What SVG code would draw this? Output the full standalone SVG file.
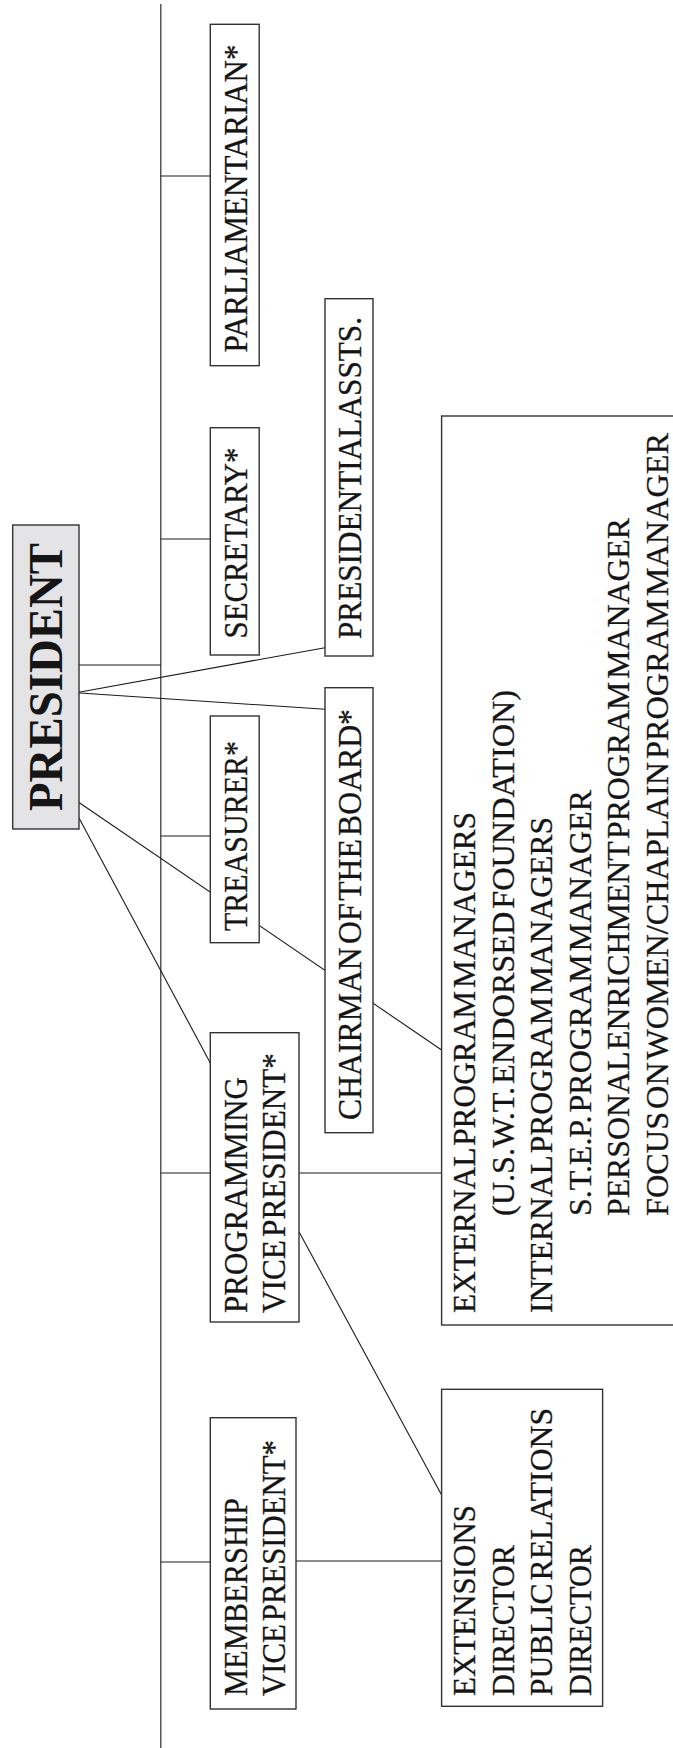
<svg xmlns="http://www.w3.org/2000/svg" width="673" height="1748" viewBox="0 0 673 1748">
<style>
.bg{fill:#ffffff}
.box{fill:#ffffff;stroke:#333333;stroke-width:1.4}
.pres{fill:#e4e4e6;stroke:#333333;stroke-width:1.4}
.ln{stroke:#1a1a1a;stroke-width:1.1;fill:none}
.t{font-family:"Liberation Serif","Times New Roman",serif;font-size:32px;fill:#151515;stroke:#151515;stroke-width:0.3;word-spacing:-5px}
.t33{font-size:33.5px}
.tb{font-family:"Liberation Serif","Times New Roman",serif;font-size:49px;font-weight:bold;fill:#151515}
</style>
<rect class="bg" x="0" y="0" width="673" height="1748"/>
<g id="connectors">
<line class="ln" x1="160.8" y1="4" x2="160.8" y2="1748"/>
<line class="ln" x1="160.8" y1="176" x2="210.3" y2="176"/>
<line class="ln" x1="160.8" y1="539" x2="210.3" y2="539"/>
<line class="ln" x1="79" y1="665" x2="160.8" y2="665"/>
<line class="ln" x1="160.8" y1="836" x2="210.3" y2="836"/>
<line class="ln" x1="160.8" y1="1173" x2="210.3" y2="1173"/>
<line class="ln" x1="299" y1="1173" x2="441.6" y2="1173"/>
<line class="ln" x1="160.8" y1="1562" x2="210.3" y2="1562"/>
<line class="ln" x1="296" y1="1561" x2="441.6" y2="1561"/>
<line class="ln" x1="76" y1="692.7" x2="325" y2="647.7"/>
<line class="ln" x1="76" y1="692.7" x2="325" y2="709.3"/>
<line class="ln" x1="79" y1="802.5" x2="441.6" y2="1050"/>
<line class="ln" x1="79" y1="818" x2="210.3" y2="1063"/>
<line class="ln" x1="299" y1="1231.7" x2="441.6" y2="1495"/>
</g>
<g id="president">
<rect class="pres" x="12.7" y="525" width="66.3" height="304"/>
<text class="tb" transform="translate(62,811) rotate(-90)" textLength="268" lengthAdjust="spacingAndGlyphs">PRESIDENT</text>
</g>
<g id="parliamentarian">
<rect class="box" x="210.3" y="24.3" width="48.9" height="341.4"/>
<text class="t t33" transform="translate(247,352.5) rotate(-90)" textLength="308" lengthAdjust="spacingAndGlyphs">PARLIAMENTARIAN*</text>
</g>
<g id="secretary">
<rect class="box" x="210.3" y="427.7" width="48.9" height="227.3"/>
<text class="t t33" transform="translate(247,638.5) rotate(-90)" textLength="191" lengthAdjust="spacingAndGlyphs">SECRETARY*</text>
</g>
<g id="treasurer">
<rect class="box" x="210.3" y="716" width="48.9" height="226.7"/>
<text class="t t33" transform="translate(247,931) rotate(-90)" textLength="190" lengthAdjust="spacingAndGlyphs">TREASURER*</text>
</g>
<g id="presidential-assts">
<rect class="box" x="325" y="298.7" width="48" height="357.3"/>
<text class="t t33" transform="translate(361,639) rotate(-90)" textLength="322" lengthAdjust="spacingAndGlyphs">PRESIDENTIAL ASSTS.</text>
</g>
<g id="chairman">
<rect class="box" x="325" y="687.7" width="48" height="445"/>
<text class="t t33" transform="translate(361,1120) rotate(-90)" textLength="411" lengthAdjust="spacingAndGlyphs">CHAIRMAN OF THE BOARD*</text>
</g>
<g id="programming-vp">
<rect class="box" x="210.3" y="1032.7" width="88.7" height="289.3"/>
<text class="t t33" transform="translate(246.5,1313) rotate(-90)" textLength="236" lengthAdjust="spacingAndGlyphs">PROGRAMMING</text>
<text class="t t33" transform="translate(285.2,1313) rotate(-90)" textLength="260" lengthAdjust="spacingAndGlyphs">VICE PRESIDENT*</text>
</g>
<g id="membership-vp">
<rect class="box" x="210.3" y="1417.7" width="85.7" height="291.3"/>
<text class="t t33" transform="translate(246.5,1696) rotate(-90)" textLength="198" lengthAdjust="spacingAndGlyphs">MEMBERSHIP</text>
<text class="t t33" transform="translate(285.2,1696) rotate(-90)" textLength="256" lengthAdjust="spacingAndGlyphs">VICE PRESIDENT*</text>
</g>
<g id="program-managers">
<rect class="box" x="441.6" y="416" width="240" height="909"/>
<text class="t" transform="translate(475,1313) rotate(-90)" textLength="501" lengthAdjust="spacingAndGlyphs">EXTERNAL PROGRAM MANAGERS</text>
<text class="t" transform="translate(513.6,1216) rotate(-90)" textLength="526" lengthAdjust="spacingAndGlyphs">(U.S.W.T. ENDORSED FOUNDATION)</text>
<text class="t" transform="translate(552.2,1313) rotate(-90)" textLength="496" lengthAdjust="spacingAndGlyphs">INTERNAL PROGRAM MANAGERS</text>
<text class="t" transform="translate(590.8,1216) rotate(-90)" textLength="426" lengthAdjust="spacingAndGlyphs">S.T.E.P. PROGRAM MANAGER</text>
<text class="t" transform="translate(629.4,1216) rotate(-90)" textLength="698" lengthAdjust="spacingAndGlyphs">PERSONAL ENRICHMENT PROGRAM MANAGER</text>
<text class="t" transform="translate(668,1216) rotate(-90)" textLength="783" lengthAdjust="spacingAndGlyphs">FOCUS ON WOMEN/CHAPLAIN PROGRAM MANAGER</text>
</g>
<g id="extensions">
<rect class="box" x="441.6" y="1389.3" width="161" height="317"/>
<text class="t" transform="translate(475,1696) rotate(-90)" textLength="191" lengthAdjust="spacingAndGlyphs">EXTENSIONS</text>
<text class="t" transform="translate(513.6,1696) rotate(-90)" textLength="151" lengthAdjust="spacingAndGlyphs">DIRECTOR</text>
<text class="t" transform="translate(552.2,1696) rotate(-90)" textLength="288" lengthAdjust="spacingAndGlyphs">PUBLIC RELATIONS</text>
<text class="t" transform="translate(590.8,1696) rotate(-90)" textLength="151" lengthAdjust="spacingAndGlyphs">DIRECTOR</text>
</g>
</svg>
